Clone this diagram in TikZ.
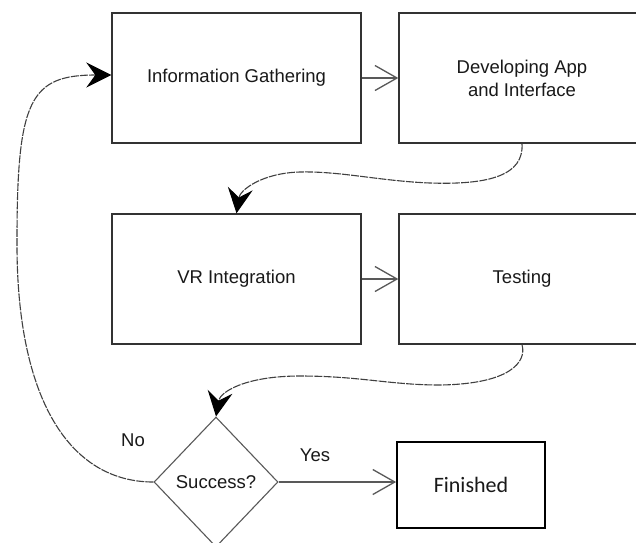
\documentclass[tikz,border=0pt]{standalone}
\usepackage{fontspec}
\setmainfont{Liberation Sans}
\newfontfamily\calibrilike{Carlito}
\usetikzlibrary{arrows.meta,shapes.geometric}

\tikzset{
  stepbox/.style={draw=black!80, line width=1.4pt, fill=white,
    minimum width=249pt, minimum height=130pt, inner sep=0pt,
    align=center, text=black!90, font=\fontsize{18.5}{23}\selectfont},
  decision/.style={diamond, draw=black!65, line width=1.1pt, fill=white,
    minimum width=124pt, minimum height=130pt, inner sep=0pt,
    text=black!90, font=\fontsize{18.5}{23}\selectfont},
  endbox/.style={draw=black, line width=1.8pt, fill=white,
    minimum width=148pt, minimum height=86pt, inner sep=0pt,
    text=black!90, font=\calibrilike\fontsize{22}{26}\selectfont},
  flow/.style={draw=black!75, line width=1.1pt, dash pattern=on 8pt off 1.2pt,
    -{Stealth[length=25pt,width=25pt,inset=9pt,black]}},
  straight/.style={draw=black!65, line width=1.3pt,
    -{Straight Barb[length=22pt,width=25pt,line width=1.3pt]}},
  edgelabel/.style={text=black!90, font=\fontsize{18.5}{23}\selectfont}
}

\begin{document}
\begin{tikzpicture}[x=1pt, y=-1pt]
  % page frame, everything outside it is cut away
  \path[use as bounding box, clip] (0,0) rectangle (636,542);
  \fill[white] (0,0) rectangle (636,542);

  % process steps
  \node[stepbox] (info) at (236.5,78)  {Information Gathering};
  \node[stepbox, minimum width=246pt] (dev) at (522,78) {Developing App\\and Interface};
  \node[stepbox] (vr)   at (236.5,279) {VR Integration};
  \node[stepbox, minimum width=246pt] (test) at (522,279) {Testing};

  % decision and end
  \node[decision] (dec) at (216,482) {Success?};
  \node[endbox] (fin) at (471,485) {Finished};

  % straight transitions
  \draw[straight] (info.east) -- (dev.west);
  \draw[straight] (vr.east) -- (test.west);
  \draw[straight] (dec.east) -- (fin.west |- dec.east);

  % waypoints of the curved transitions
  \coordinate (c1) at (430,183);
  \coordinate (c2) at (300,172);
  \coordinate (c3) at (440,385);
  \coordinate (c4) at (300,376);
  \coordinate (c5) at (17,240);

  \draw[flow] (dev.south) .. controls (524,175) and (490,185) .. (c1)
              .. controls (380,181) and (340,171) .. (c2)
              .. controls (262,173) and (240,190) .. (vr.north);

  \draw[flow] (test.south) .. controls (527,362) and (510,384) .. (c3)
              .. controls (390,385) and (360,376) .. (c4)
              .. controls (245,376) and (220,392) .. (dec.north);

  \draw[flow] (dec.west) .. controls (70,482) and (16,400) .. (c5)
              .. controls (17,100) and (30,75) .. ([yshift=3pt]info.west);

  % branch labels
  \node[edgelabel] (no)  at (133,440) {No};
  \node[edgelabel] (yes) at (315,455) {Yes};
\end{tikzpicture}
\end{document}
